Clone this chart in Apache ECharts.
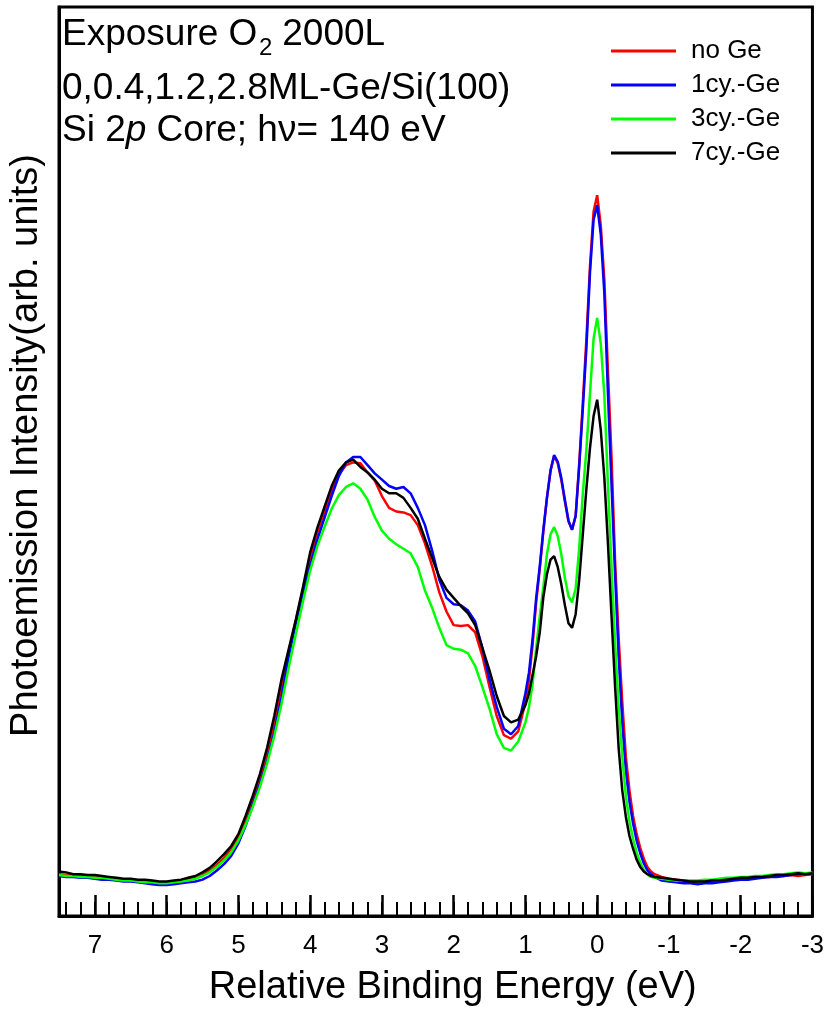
<!DOCTYPE html>
<html>
<head>
<meta charset="utf-8">
<title>Si 2p core level</title>
<script src="https://cdn.jsdelivr.net/npm/echarts@6/dist/echarts.min.js"></script>
<style>
html, body { margin: 0; padding: 0; background: #fff; }
#chart { width: 827px; height: 1012px; }
</style>
</head>
<body>
<div id="chart"></div>
<script>
// relative binding energy (eV), shared by all four spectra
const energy = [
  7.5, 7.4, 7.3, 7.2, 7.1, 7.0, 6.9, 6.8, 6.7, 6.6,
  6.5, 6.4, 6.3, 6.2, 6.1, 6.0, 5.9, 5.8, 5.7, 5.6,
  5.5, 5.4, 5.3, 5.2, 5.1, 5.0, 4.9, 4.8, 4.7, 4.6,
  4.5, 4.4, 4.3, 4.2, 4.1, 4.0, 3.9, 3.8, 3.7, 3.6,
  3.5, 3.4, 3.3, 3.2, 3.1, 3.0, 2.9, 2.8, 2.7, 2.6,
  2.5, 2.4, 2.3, 2.2, 2.1, 2.0, 1.9, 1.8, 1.7, 1.6,
  1.5, 1.4, 1.3, 1.2, 1.1,
  1.0, 0.95, 0.9, 0.85, 0.8, 0.75, 0.7, 0.65, 0.6, 0.55,
  0.5, 0.45, 0.4, 0.35, 0.3, 0.25, 0.2, 0.15, 0.1, 0.05,
  0.0, -0.05, -0.1, -0.15, -0.2, -0.25, -0.3, -0.35, -0.4, -0.45,
  -0.5, -0.55, -0.6, -0.65, -0.7, -0.75, -0.8,
  -0.9, -1.0, -1.1, -1.2, -1.3, -1.4, -1.5, -1.6, -1.7, -1.8,
  -1.9, -2.0, -2.1, -2.2, -2.3, -2.4, -2.5, -2.6, -2.7, -2.8, -2.9, -3.0
]

const noGe = [
  4.6, 4.5, 4.5, 4.4, 4.4, 4.3, 4.3, 4.2, 4.1, 4.0,
  4.0, 3.9, 3.8, 3.8, 3.7, 3.7, 3.8, 3.9, 4.0, 4.2,
  4.5, 5.0, 5.6, 6.4, 7.4, 8.7, 10.5, 12.8, 15.2, 17.9,
  21.2, 25.2, 29.0, 32.5, 35.9, 39.3, 42.2, 44.5, 46.8, 48.6,
  49.6, 49.9, 49.8, 48.8, 47.9, 46.2, 44.9, 44.5, 44.4, 44.1,
  43.0, 41.0, 38.5, 35.6, 33.5, 32.0, 31.9, 32.0, 31.2, 28.6,
  25.2, 22.0, 19.9, 19.5, 20.3,
  23.5, 26.0, 29.8, 34.5, 38.2, 42.3, 46.0, 49.0, 50.6, 49.8,
  48.0, 45.6, 43.4, 42.5, 44.0, 49.8, 56.5, 63.5, 71.5, 77.5,
  79.3, 76.0, 70.0, 60.0, 50.5, 39.0, 30.5, 23.5, 17.5, 13.8,
  11.0, 9.0, 7.5, 6.3, 5.4, 4.9, 4.6,
  4.3, 4.1, 4.0, 3.9, 3.8, 3.8, 3.9, 3.9, 4.0, 4.0,
  4.1, 4.1, 4.2, 4.2, 4.3, 4.3, 4.4, 4.4, 4.5, 4.4, 4.5, 4.6
]

const ge1cy = [
  4.4, 4.3, 4.3, 4.2, 4.2, 4.1, 4.0, 4.0, 3.9, 3.8,
  3.8, 3.7, 3.6, 3.5, 3.4, 3.4, 3.5, 3.6, 3.7, 3.8,
  4.0, 4.4, 5.0, 5.7, 6.6, 8.0, 9.9, 12.2, 14.5, 17.0,
  20.2, 24.0, 28.5, 32.2, 35.5, 38.5, 41.4, 43.8, 46.2, 48.4,
  49.9, 50.5, 50.5, 49.6, 48.7, 48.0, 47.3, 47.0, 47.2, 46.5,
  44.9, 43.0, 40.2, 37.0, 35.0, 34.3, 34.2, 33.6, 32.4, 29.5,
  26.0, 23.0, 20.6, 20.0, 20.9,
  24.5, 26.8, 30.5, 35.0, 38.5, 42.5, 46.0, 49.0, 50.7, 50.0,
  48.2, 45.8, 43.5, 42.5, 44.0, 49.5, 55.8, 62.5, 70.8, 76.6,
  78.2, 75.0, 68.5, 57.5, 47.5, 37.5, 28.5, 21.3, 16.0, 12.6,
  10.2, 8.3, 6.9, 5.8, 5.0, 4.6, 4.3,
  3.9, 3.8, 3.7, 3.6, 3.6, 3.5, 3.6, 3.6, 3.7, 3.8,
  3.9, 4.0, 4.0, 4.1, 4.2, 4.3, 4.3, 4.4, 4.5, 4.6, 4.7, 4.7
]

const ge3cy = [
  4.5, 4.4, 4.4, 4.3, 4.3, 4.2, 4.2, 4.1, 4.0, 3.9,
  3.9, 3.8, 3.7, 3.7, 3.6, 3.6, 3.7, 3.8, 3.9, 4.1,
  4.4, 4.8, 5.4, 6.1, 7.0, 8.3, 10.0, 12.0, 14.2, 16.8,
  19.8, 23.3, 27.3, 31.0, 34.6, 38.0, 40.7, 42.8, 44.8, 46.3,
  47.2, 47.6, 47.0, 45.8, 43.9, 42.4, 41.5, 40.9, 40.4, 39.9,
  38.4, 35.8, 33.9, 31.7, 29.8, 29.4, 29.3, 28.9, 27.5, 25.2,
  22.8, 20.0, 18.5, 18.2, 19.2,
  21.3, 23.0, 25.5, 29.5, 33.0, 36.2, 39.8, 42.0, 42.8, 41.8,
  39.8, 37.2, 35.2, 34.5, 36.0, 40.5, 46.5, 51.3, 57.5, 63.5,
  65.8, 63.0, 57.3, 47.5, 38.5, 30.0, 23.0, 17.5, 13.2, 10.4,
  8.5, 7.0, 5.9, 5.1, 4.6, 4.3, 4.2,
  4.1, 4.0, 3.9, 3.9, 3.9, 3.9, 4.0, 4.0, 4.1, 4.2,
  4.2, 4.3, 4.3, 4.4, 4.4, 4.5, 4.6, 4.6, 4.7, 4.8, 4.7, 4.8
]

const ge7cy = [
  4.9, 4.8, 4.6, 4.6, 4.5, 4.5, 4.4, 4.3, 4.2, 4.1,
  4.1, 4.0, 4.0, 3.9, 3.8, 3.8, 3.9, 4.0, 4.2, 4.4,
  4.8, 5.3, 6.0, 6.8, 7.7, 9.0, 11.0, 13.2, 15.6, 18.5,
  22.0, 26.0, 29.3, 32.6, 36.2, 40.0, 42.7, 45.0, 47.3, 49.0,
  49.9, 50.2, 49.4, 48.8, 48.0, 47.0, 46.5, 46.5, 46.0, 44.9,
  43.7, 41.5, 39.4, 37.3, 35.9, 35.0, 34.1, 33.3, 32.0, 29.5,
  27.0, 24.2, 22.0, 21.3, 21.6,
  23.2, 24.5, 26.5, 28.6, 31.2, 35.1, 37.6, 39.2, 39.6, 38.4,
  36.5, 34.2, 32.2, 31.7, 33.2, 37.0, 42.0, 47.0, 51.5, 55.0,
  56.8, 53.5, 48.2, 41.0, 33.0, 25.2, 18.4, 13.8, 10.9, 8.8,
  7.4, 6.2, 5.4, 4.9, 4.6, 4.4, 4.3,
  4.2, 4.1, 4.0, 3.9, 3.8, 3.8, 3.8, 3.9, 3.9, 4.0,
  4.1, 4.2, 4.2, 4.3, 4.3, 4.4, 4.5, 4.5, 4.6, 4.7, 4.6, 4.7
]

const seriesNames = ['no Ge', '1cy.-Ge', '3cy.-Ge', '7cy.-Ge']
const seriesValues = [noGe, ge1cy, ge3cy, ge7cy]
const seriesColors = ['#ff0000', '#0000ff', '#00ff00', '#000000']

const FONT = "'Liberation Sans', Arial, sans-serif"

const chart = echarts.init(document.getElementById('chart'))

chart.setOption({
  animation: false,
  backgroundColor: '#fff',
  grid: {
    left: 57,
    right: 14,
    top: 7,
    bottom: 96,
    show: true,
    borderColor: '#000',
    borderWidth: 3
  },
  legend: {
    orient: 'vertical',
    left: 611,
    top: 38,
    padding: 0,
    itemWidth: 65,
    itemHeight: 3,
    itemGap: 8,
    icon: 'rect',
    data: seriesNames,
    textStyle: {
      fontFamily: FONT,
      fontSize: 26,
      color: '#000',
      padding: [0, 0, 0, 10]
    }
  },
  xAxis: [
    {
      type: 'value',
      inverse: true,
      min: -3,
      max: 7.5,
      interval: 1,
      name: 'Relative Binding Energy (eV)',
      nameLocation: 'middle',
      nameGap: 53,
      nameTextStyle: {
        fontFamily: FONT,
        fontSize: 38,
        color: '#000',
        padding: [0, 0, 0, 34]
      },
      axisLine: { onZero: false, lineStyle: { color: '#000', width: 3 } },
      axisTick: {
        inside: true,
        length: 21,
        lineStyle: { color: '#000', width: 2.5 }
      },
      axisLabel: {
        margin: 17,
        fontFamily: FONT,
        fontSize: 26,
        color: '#000',
        showMaxLabel: false,
        formatter: function(v) {
          return Number.isInteger(v) ? String(v) : ''
        }
      },
      splitLine: { show: false }
    },
    {
      // minor ticks every 0.2 eV
      type: 'value',
      inverse: true,
      position: 'bottom',
      min: -3,
      max: 7.5,
      interval: 0.2,
      axisLine: { show: false, onZero: false },
      axisTick: {
        inside: true,
        length: 14,
        lineStyle: { color: '#000', width: 2 }
      },
      axisLabel: { show: false },
      splitLine: { show: false }
    }
  ],
  yAxis: {
    type: 'value',
    min: 0,
    max: 100,
    name: 'Photoemission Intensity(arb. units)',
    nameLocation: 'middle',
    nameGap: 13,
    nameTextStyle: {
      fontFamily: FONT,
      fontSize: 38,
      color: '#000',
      padding: [0, 0, 0, 32]
    },
    axisLine: { show: true, onZero: false, lineStyle: { color: '#000', width: 3 } },
    axisTick: { show: false },
    axisLabel: { show: false },
    splitLine: { show: false }
  },
  graphic: [
    {
      type: 'text',
      x: 62,
      y: 35,
      style: { text: 'Exposure O', font: '37px ' + FONT, fill: '#000', verticalAlign: 'middle' }
    },
    {
      type: 'text',
      x: 259,
      y: 48,
      style: { text: '2', font: '24px ' + FONT, fill: '#000', verticalAlign: 'middle' }
    },
    {
      type: 'text',
      x: 272,
      y: 35,
      style: { text: ' 2000L', font: '37px ' + FONT, fill: '#000', verticalAlign: 'middle' }
    },
    {
      type: 'text',
      x: 62,
      y: 89,
      style: { text: '0,0.4,1.2,2.8ML-Ge/Si(100)', font: '37px ' + FONT, fill: '#000', verticalAlign: 'middle' }
    },
    {
      type: 'text',
      x: 62,
      y: 131,
      style: {
        text: '{n|Si 2}{i|p}{n| Core; hν= 140 eV}',
        fill: '#000',
        verticalAlign: 'middle',
        rich: {
          n: { fontFamily: FONT, fontSize: 37, color: '#000' },
          i: { fontFamily: FONT, fontSize: 37, fontStyle: 'italic', color: '#000' }
        }
      }
    }
  ],
  series: seriesNames.map(function(name, k) {
    return {
      name: name,
      type: 'line',
      symbol: 'none',
      color: seriesColors[k],
      lineStyle: { color: seriesColors[k], width: 2.5 },
      data: energy.map(function(e, i) {
        return [e, seriesValues[k][i]]
      })
    }
  })
})
</script>
</body>
</html>
